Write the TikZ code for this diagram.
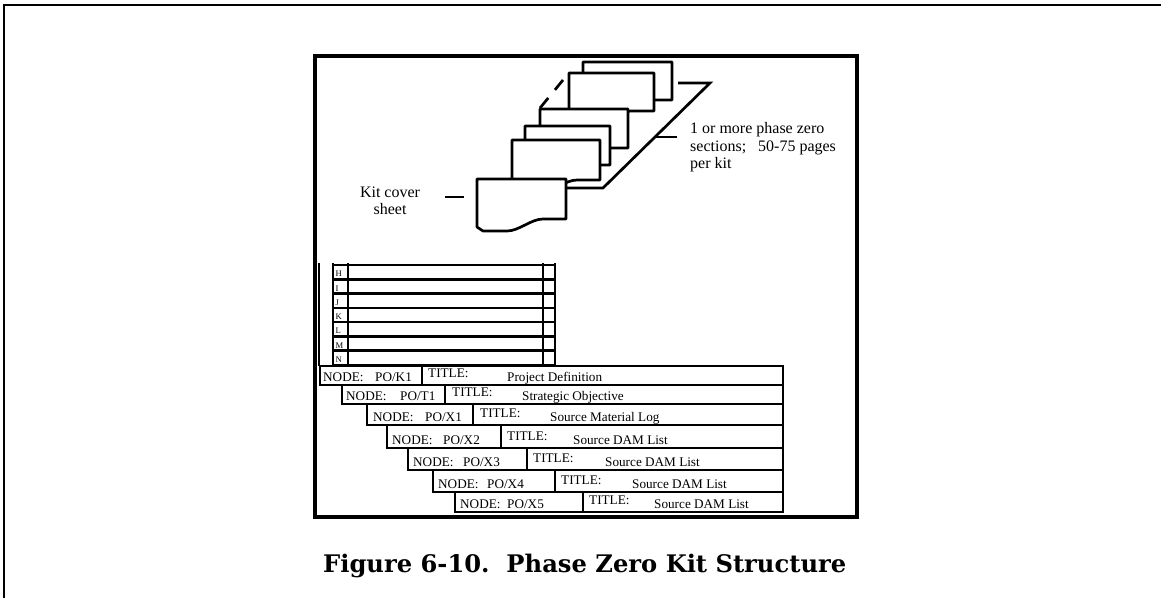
\documentclass[tikz,border=0pt]{standalone}
\usepackage{fontspec}
\usepackage{graphicx}
\setmainfont{Liberation Serif}
\newfontfamily\titlefont{DejaVu Serif}
\begin{document}
\begin{tikzpicture}[x=1pt,y=-1pt,line join=miter,
  pagesty/.style={draw,fill=white,line width=2.7pt,line join=round},
  strokesty/.style={line width=2.7pt},
  tabline/.style={line width=2.6pt},
  gridh/.style={line width=2.6pt},
  gridv/.style={line width=2pt},
  lbl/.style={font=\fontsize{16}{17.5}\selectfont,inner sep=0pt},
  tabtext/.style={font=\fontsize{13.2}{14}\selectfont,inner sep=0pt,anchor=base west},
  lettertext/.style={font=\fontsize{8.6}{9}\selectfont,inner sep=0pt,anchor=base west}]
\useasboundingbox (0,0) rectangle (1161,598);
% outer frame
\draw[line width=2pt] (3.7,598) -- (3.7,5) -- (1161,5);
% inner frame
\draw[line width=4pt] (315,56) rectangle (857,517);
% page stack (back to front)
\newcommand\kitpage[4]{%
  \draw[pagesty] (#1,#2) -- (#3,#2) -- (#3,#4) -- ({#3-23},#4)
    .. controls ({#3-35},#4) and ({#3-47},{#4+12}) .. ({#3-59},{#4+12})
    -- ({#1+6},{#4+12}) -- (#1,{#4+8}) -- cycle;}
\kitpage{583}{62}{672}{100}
\kitpage{569}{73}{654}{111}
\kitpage{540}{109}{628}{148}
\kitpage{525}{126}{610}{165}
\kitpage{512}{140}{600}{180}
\kitpage{477}{179}{566}{219}
\coordinate (dashA) at (540,108);
\coordinate (dashB) at (563,80);
\draw[strokesty,dash pattern=on 13pt off 10.5pt] (dashA) -- (dashB);
% bracket
\coordinate (brA) at (567,188);
\coordinate (brB) at (603,188);
\coordinate (brC) at (710,83);
\coordinate (brD) at (678,83);
\draw[strokesty] (brA) -- (brB) -- (brC) -- (brD);
\coordinate (tickA) at (655,137);
\coordinate (tickB) at (677,137);
\draw[strokesty] (tickA) -- (tickB);
\coordinate (kitA) at (445,197);
\coordinate (kitB) at (464,197);
\draw[strokesty] (kitA) -- (kitB);
% labels
\node[lbl,anchor=base] (kit1) at (390,197) {Kit cover};
\node[lbl,anchor=base] (kit2) at (390,214) {sheet};
\node[lbl,anchor=base west] (ph1) at (690,133) {1 or more phase zero};
\node[lbl,anchor=base west] (ph2) at (690,151) {sections;\hspace{8pt} 50-75 pages};
\node[lbl,anchor=base west] (ph3) at (690,168) {per kit};
% letter table
\draw[gridv] (319,263) -- (319,366);
\foreach \x in {333,348,543,555} \draw[gridv] (\x,263) -- (\x,366);
\foreach \k in {0,...,7} \draw[gridh] (333,{265+\k*14.286}) -- (555,{265+\k*14.286});
\foreach \L [count=\k] in {H,I,J,K,L,M,N}
  \node[lettertext] (let\k) at (335.5,{265+\k*14.286-2.5}) {\L};
% tabs
\foreach \yt/\yb/\xl/\xm/\nx/\px/\tx/\sx/\po/\txt [count=\i] in {
  366/385/320/422/323/375/428/507/K1/Project Definition,
  385/404/342/445/346/400/452/522/T1/Strategic Objective,
  404/425/367/473/373/425/480/550/X1/Source Material Log,
  425/448/387/501/392/443/507/573/X2/Source DAM List,
  448/470/408/527/413/463/533/605/X3/Source DAM List,
  470/492/433/555/438/487/561/632/X4/Source DAM List,
  492/512/455/583/460/507/589/654/X5/Source DAM List}{
  \draw[tabline] (\xl,\yt) rectangle (783,\yb);
  \draw[tabline] (\xm,\yt) -- (\xm,\yb);
  \node[tabtext] (nd\i) at (\nx,{\yb-4}) {NODE:};
  \node[tabtext] (po\i) at (\px,{\yb-3.5}) {PO/\po};
  \node[tabtext] (ti\i) at (\tx,{\yb-8}) {TITLE:};
  \node[tabtext] (tx\i) at (\sx,{\yb-3.5}) {\txt};
}
% caption
\node[anchor=base west,inner sep=0pt] (title) at (323,572)
  {\resizebox{523pt}{!}{\titlefont\bfseries Figure 6-10.\ \ Phase Zero Kit Structure}};
\end{tikzpicture}
\end{document}
